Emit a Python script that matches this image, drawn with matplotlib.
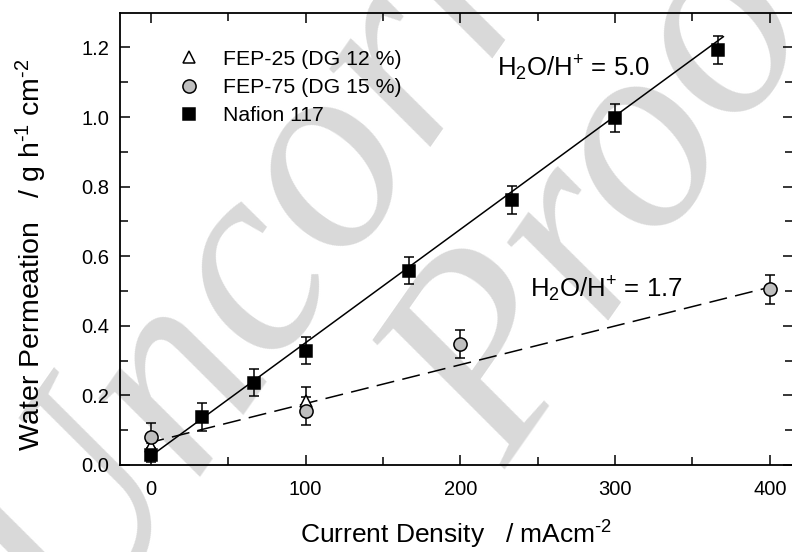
import matplotlib
matplotlib.use("Agg")
import matplotlib.pyplot as plt
from matplotlib.lines import Line2D

plt.rcParams['font.family'] = ['Liberation Sans', 'DejaVu Sans']
plt.rcParams['mathtext.fontset'] = 'custom'
plt.rcParams['mathtext.rm'] = 'Liberation Sans'
plt.rcParams['mathtext.it'] = 'Liberation Sans'
plt.rcParams['mathtext.default'] = 'regular'
plt.rcParams['lines.scale_dashes'] = False

# data
nafion_x = [0, 33.3, 66.7, 100, 166.7, 233.3, 300, 366.7]
nafion_y = [0.028, 0.139, 0.237, 0.329, 0.559, 0.762, 0.997, 1.193]
nafion_err = [0.02, 0.04, 0.04, 0.04, 0.04, 0.04, 0.04, 0.04]

fep75_x = [0, 100, 200, 400]
fep75_y = [0.080, 0.155, 0.348, 0.505]
fep75_err = [0.04, 0.04, 0.04, 0.042]

fep25_x = [0, 100]
fep25_y = [0.055, 0.185]
fep25_err = [0.02, 0.04]

fit_nafion_x = [0, 370]
fit_nafion_y = [0.026, 1.231]
fit_fep_x = [-3, 400]
fit_fep_y = [0.062, 0.511]

xticks = [0, 100, 200, 300, 400]
yticks = [0.0, 0.2, 0.4, 0.6, 0.8, 1.0, 1.2]

fig = plt.figure(figsize=(7.92, 5.52), dpi=100)

# watermark
wm_color = '#d9d9d9'
wm_kw = dict(fontsize=200, family='Liberation Serif', style='italic', color=wm_color,
             rotation=55, rotation_mode='anchor', ha='left', va='baseline', zorder=-1)
fig.text(69/792, 1 - 627/552, 'Uncorrected', **wm_kw)
fig.text(506/792, 1 - 469/552, 'Proof', **wm_kw)

ax = fig.add_axes([120/792, 87/552, 673/792, 452.3/552])
ax.patch.set_alpha(0)

ax.plot(fit_nafion_x, fit_nafion_y, color='black', lw=1.1, zorder=2)
ax.plot(fit_fep_x, fit_fep_y, color='black', lw=1.1, linestyle=(0, (13, 6)), zorder=2)

ekw = dict(ecolor='black', elinewidth=1.1, capsize=3.5, capthick=1.1, linestyle='none', zorder=3)
ax.errorbar(fep25_x, fep25_y, yerr=fep25_err, marker='^', ms=9, mfc='white', mec='black',
            mew=1.1, **ekw)
ax.errorbar(fep75_x, fep75_y, yerr=fep75_err, marker='o', ms=9.5, mfc='#bfbfbf', mec='black',
            mew=1.1, **ekw)
ax.errorbar(nafion_x, nafion_y, yerr=nafion_err, marker='s', ms=8.5, mfc='black', mec='black',
            mew=1.1, **ekw)

ax.set_xlim(-20, 415)
ax.set_ylim(0, 1.3)
ax.set_xticks(xticks)
ax.set_xticks([50, 150, 250, 350], minor=True)
ax.set_yticks(yticks)
ax.set_yticklabels(['%.1f' % v for v in yticks])
ax.set_yticks([0.1, 0.3, 0.5, 0.7, 0.9, 1.1], minor=True)
ax.tick_params(which='both', direction='in', top=True, right=True, width=1.1, labelsize=14.5)
ax.tick_params(axis='x', pad=11)
ax.tick_params(axis='y', pad=8)
ax.tick_params(which='major', length=7)
ax.tick_params(which='minor', length=6)
for s in ax.spines.values():
    s.set_linewidth(1.3)

ax.set_xlabel(r'Current Density   / mAcm$^{\text{-}2}$', fontsize=19, labelpad=14)
ax.set_ylabel(r'Water Permeation   / g h$^{\text{-}1}$ cm$^{\text{-}2}$', fontsize=20.5)
ax.yaxis.set_label_coords(-0.106, 0.465)

ax.text(224, 1.118, 'H$_2$O/H$^{+}$ = 5.0', fontsize=18.5)
ax.text(245, 0.483, 'H$_2$O/H$^{+}$ = 1.7', fontsize=18.5)

handles = [
    Line2D([], [], linestyle='none', marker='^', ms=9, mfc='white', mec='black', mew=1.1),
    Line2D([], [], linestyle='none', marker='o', ms=9.5, mfc='#bfbfbf', mec='black', mew=1.1),
    Line2D([], [], linestyle='none', marker='s', ms=8.5, mfc='black', mec='black', mew=1.1),
]
labels = ['FEP-25 (DG 12 %)', 'FEP-75 (DG 15 %)', 'Nafion 117']
ax.legend(handles, labels, loc='upper left', bbox_to_anchor=(0.055, 0.96), frameon=False,
          fontsize=15.3, handletextpad=1.0, labelspacing=0.43, handlelength=1.2)

fig.savefig('out.png', dpi=100)
